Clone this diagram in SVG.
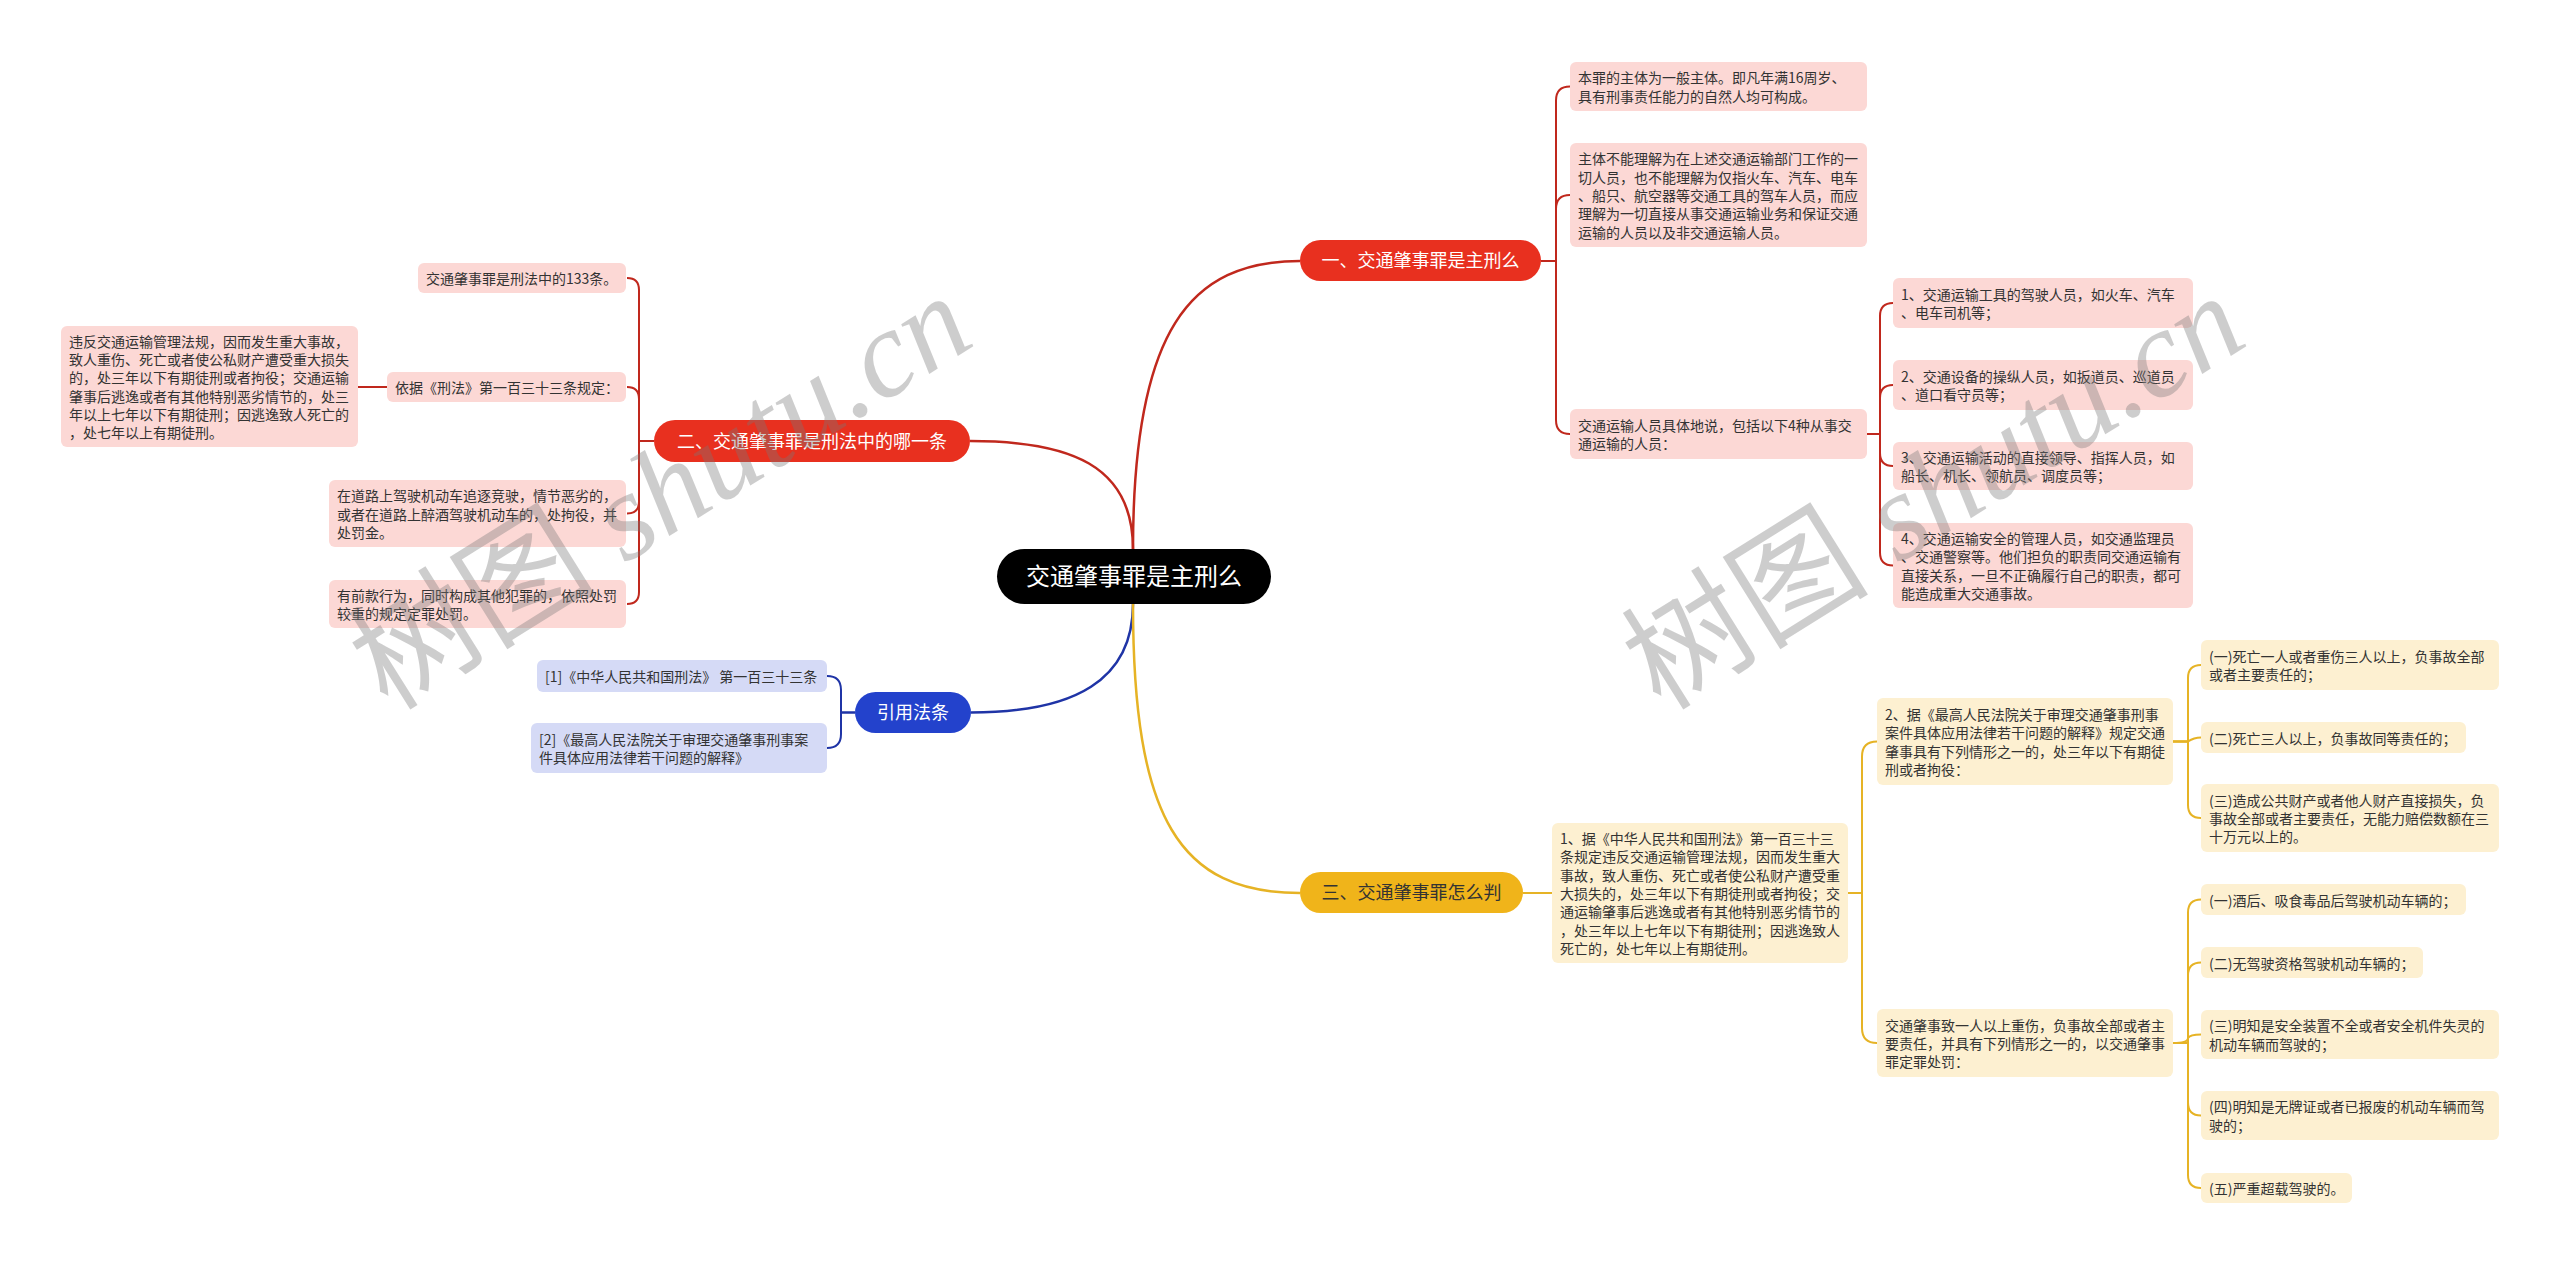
<svg xmlns="http://www.w3.org/2000/svg" width="2560" height="1265" viewBox="0 0 2560 1265">
<style>
text{font-family:"Noto Sans CJK SC","Noto Sans",sans-serif;}
.t{font-size:14px;fill:#333;}
.m{font-size:18px;text-anchor:middle;}
.w{fill:#fff;}
.rn{fill:#e8301f;}
.yn{fill:#f0b41a;}
.bn{fill:#2342cc;}
.rb{fill:#fcd8d5;}
.yb{fill:#fdf0d1;}
.bb{fill:#d5daf6;}
.cr{fill:none;stroke:#c0281d;stroke-width:2;}
.cy{fill:none;stroke:#e6b325;stroke-width:2;}
.cb{fill:none;stroke:#1f34a6;stroke-width:2;}
.main{stroke-width:2.5;}
.wm{font-family:"Liberation Serif","Noto Sans CJK SC",serif;font-size:124px;fill:#787878;opacity:0.36;}
</style>
<rect width="2560" height="1265" fill="#fff"/>

<g id="connectors">
  <path class="cr main" d="M1133 549 C1133 330 1190 261 1300 261"/>
  <path class="cr main" d="M1133 549 C1133 465 1070 441 970 441"/>
  <path class="cb main" d="M1133 604 C1133 680 1075 712.5 971 712.5"/>
  <path class="cy main" d="M1133 604 C1133 820 1180 893 1300 893"/>

  <path class="cr" d="M1541 261 H1556 V100.5 Q1556 86.5 1570 86.5"/>
  <path class="cr" d="M1541 261 H1556 V209 Q1556 195 1570 195"/>
  <path class="cr" d="M1541 261 H1556 V420 Q1556 434 1570 434"/>
  <path class="cr" d="M1867 434 H1880 V316 Q1880 303 1893 303"/>
  <path class="cr" d="M1867 434 H1880 V398 Q1880 385 1893 385"/>
  <path class="cr" d="M1867 434 H1880 V453 Q1880 466 1893 466"/>
  <path class="cr" d="M1867 434 H1880 V552.5 Q1880 565.5 1893 565.5"/>

  <path class="cr" d="M654 441 H639 V290 Q639 278 627 278"/>
  <path class="cr" d="M654 441 H639 V399 Q639 387 627 387"/>
  <path class="cr" d="M654 441 H639 V501.5 Q639 513.5 627 513.5"/>
  <path class="cr" d="M654 441 H639 V592 Q639 604 627 604"/>
  <path class="cr" d="M387 387 H358"/>

  <path class="cb" d="M855 712.5 H841 V690 Q841 676 827 676"/>
  <path class="cb" d="M855 712.5 H841 V734 Q841 748 827 748"/>

  <path class="cy" d="M1523 893 H1552"/>
  <path class="cy" d="M1848 893 H1862 V756.5 Q1862 741.5 1877 741.5"/>
  <path class="cy" d="M1848 893 H1862 V1028 Q1862 1043 1877 1043"/>
  <path class="cy" d="M2173 741.5 H2188 V678 Q2188 665 2201 665"/>
  <path class="cy" d="M2173 741.5 H2188 Q2194 737.5 2201 737.5"/>
  <path class="cy" d="M2173 741.5 H2188 V805 Q2188 818 2201 818"/>
  <path class="cy" d="M2173 1043 H2188 V912.5 Q2188 899.5 2201 899.5"/>
  <path class="cy" d="M2173 1043 H2188 V975.5 Q2188 962.5 2201 962.5"/>
  <path class="cy" d="M2173 1043 Q2188 1043 2188 1038 Q2190 1034.5 2201 1034.5"/>
  <path class="cy" d="M2173 1043 H2188 V1102.5 Q2188 1115.5 2201 1115.5"/>
  <path class="cy" d="M2173 1043 H2188 V1175 Q2188 1188 2201 1188"/>
</g>

<g id="root">
  <rect x="997" y="549" width="274" height="55" rx="27.5" fill="#000"/>
  <text x="1134" y="585" class="w" style="font-size:24px;text-anchor:middle">交通肇事罪是主刑么</text>
</g>

<g id="b1">
  <rect x="1300" y="240" width="241" height="41" rx="20.5" class="rn"/>
  <text x="1420.5" y="267" class="m w">一、交通肇事罪是主刑么</text>
</g>
<g id="b1a">
  <rect x="1570" y="62" width="297" height="49" rx="6" class="rb"/>
  <text class="t"><tspan x="1578" y="83.4">本罪的主体为一般主体。即凡年满16周岁、</tspan><tspan x="1578" y="101.7">具有刑事责任能力的自然人均可构成。</tspan></text>
</g>
<g id="b1b">
  <rect x="1570" y="143" width="297" height="104" rx="6" class="rb"/>
  <text class="t"><tspan x="1578" y="164.4">主体不能理解为在上述交通运输部门工作的一</tspan><tspan x="1578" y="182.7">切人员，也不能理解为仅指火车、汽车、电车</tspan><tspan x="1578" y="201">、船只、航空器等交通工具的驾车人员，而应</tspan><tspan x="1578" y="219.3">理解为一切直接从事交通运输业务和保证交通</tspan><tspan x="1578" y="237.6">运输的人员以及非交通运输人员。</tspan></text>
</g>
<g id="b1c">
  <rect x="1570" y="409" width="297" height="50" rx="6" class="rb"/>
  <text class="t"><tspan x="1578" y="430.85">交通运输人员具体地说，包括以下4种从事交</tspan><tspan x="1578" y="449.15">通运输的人员：</tspan></text>
</g>
<g id="b1c1">
  <rect x="1893" y="278" width="300" height="50" rx="6" class="rb"/>
  <text class="t"><tspan x="1901" y="299.85">1、交通运输工具的驾驶人员，如火车、汽车</tspan><tspan x="1901" y="318.15">、电车司机等；</tspan></text>
</g>
<g id="b1c2">
  <rect x="1893" y="360" width="300" height="50" rx="6" class="rb"/>
  <text class="t"><tspan x="1901" y="381.85">2、交通设备的操纵人员，如扳道员、巡道员</tspan><tspan x="1901" y="400.15">、道口看守员等；</tspan></text>
</g>
<g id="b1c3">
  <rect x="1893" y="442" width="300" height="48" rx="6" class="rb"/>
  <text class="t"><tspan x="1901" y="462.85">3、交通运输活动的直接领导、指挥人员，如</tspan><tspan x="1901" y="481.15">船长、机长、领航员、调度员等；</tspan></text>
</g>
<g id="b1c4">
  <rect x="1893" y="523" width="300" height="85" rx="6" class="rb"/>
  <text class="t"><tspan x="1901" y="544.05">4、交通运输安全的管理人员，如交通监理员</tspan><tspan x="1901" y="562.35">、交通警察等。他们担负的职责同交通运输有</tspan><tspan x="1901" y="580.65">直接关系，一旦不正确履行自己的职责，都可</tspan><tspan x="1901" y="598.95">能造成重大交通事故。</tspan></text>
</g>

<g id="b2">
  <rect x="654" y="420" width="316" height="42" rx="21" class="rn"/>
  <text x="812" y="447.5" class="m w">二、交通肇事罪是刑法中的哪一条</text>
</g>
<g id="b2a">
  <rect x="418" y="263" width="208" height="30" rx="6" class="rb"/>
  <text x="426" y="284" class="t">交通肇事罪是刑法中的133条。</text>
</g>
<g id="b2b">
  <rect x="387" y="372" width="239" height="30" rx="6" class="rb"/>
  <text x="395" y="393" class="t">依据《刑法》第一百三十三条规定：</text>
</g>
<g id="b2b1">
  <rect x="61" y="326" width="297" height="121" rx="6" class="rb"/>
  <text class="t"><tspan x="69" y="346.75">违反交通运输管理法规，因而发生重大事故，</tspan><tspan x="69" y="365.05">致人重伤、死亡或者使公私财产遭受重大损失</tspan><tspan x="69" y="383.35">的，处三年以下有期徒刑或者拘役；交通运输</tspan><tspan x="69" y="401.65">肇事后逃逸或者有其他特别恶劣情节的，处三</tspan><tspan x="69" y="419.95">年以上七年以下有期徒刑；因逃逸致人死亡的</tspan><tspan x="69" y="438.25">，处七年以上有期徒刑。</tspan></text>
</g>
<g id="b2c">
  <rect x="329" y="480" width="297" height="67" rx="6" class="rb"/>
  <text class="t"><tspan x="337" y="501.2">在道路上驾驶机动车追逐竞驶，情节恶劣的，</tspan><tspan x="337" y="519.5">或者在道路上醉酒驾驶机动车的，处拘役，并</tspan><tspan x="337" y="537.8">处罚金。</tspan></text>
</g>
<g id="b2d">
  <rect x="329" y="580" width="297" height="48" rx="6" class="rb"/>
  <text class="t"><tspan x="337" y="600.85">有前款行为，同时构成其他犯罪的，依照处罚</tspan><tspan x="337" y="619.15">较重的规定定罪处罚。</tspan></text>
</g>

<g id="cite">
  <rect x="855" y="692" width="116" height="41" rx="20.5" class="bn"/>
  <text x="913" y="719" class="m w">引用法条</text>
</g>
<g id="cite1">
  <rect x="537" y="660" width="290" height="32" rx="6" class="bb"/>
  <text x="545" y="682" class="t">[1]《中华人民共和国刑法》 第一百三十三条</text>
</g>
<g id="cite2">
  <rect x="531" y="723" width="296" height="50" rx="6" class="bb"/>
  <text class="t"><tspan x="539" y="744.85">[2]《最高人民法院关于审理交通肇事刑事案</tspan><tspan x="539" y="763.15">件具体应用法律若干问题的解释》</tspan></text>
</g>

<g id="b3">
  <rect x="1300" y="872" width="223" height="41" rx="20.5" class="yn"/>
  <text x="1411.5" y="899" class="m" fill="#333">三、交通肇事罪怎么判</text>
</g>
<g id="b3a">
  <rect x="1552" y="823" width="296" height="140" rx="6" class="yb"/>
  <text class="t"><tspan x="1560" y="844.1">1、据《中华人民共和国刑法》第一百三十三</tspan><tspan x="1560" y="862.4">条规定违反交通运输管理法规，因而发生重大</tspan><tspan x="1560" y="880.7">事故，致人重伤、死亡或者使公私财产遭受重</tspan><tspan x="1560" y="899">大损失的，处三年以下有期徒刑或者拘役；交</tspan><tspan x="1560" y="917.3">通运输肇事后逃逸或者有其他特别恶劣情节的</tspan><tspan x="1560" y="935.6">，处三年以上七年以下有期徒刑；因逃逸致人</tspan><tspan x="1560" y="953.9">死亡的，处七年以上有期徒刑。</tspan></text>
</g>
<g id="b3b">
  <rect x="1877" y="698" width="296" height="87" rx="6" class="yb"/>
  <text class="t"><tspan x="1885" y="720.05">2、据《最高人民法院关于审理交通肇事刑事</tspan><tspan x="1885" y="738.35">案件具体应用法律若干问题的解释》规定交通</tspan><tspan x="1885" y="756.65">肇事具有下列情形之一的，处三年以下有期徒</tspan><tspan x="1885" y="774.95">刑或者拘役：</tspan></text>
</g>
<g id="b3b1">
  <rect x="2201" y="640" width="298" height="50" rx="6" class="yb"/>
  <text class="t"><tspan x="2209" y="661.85">(一)死亡一人或者重伤三人以上，负事故全部</tspan><tspan x="2209" y="680.15">或者主要责任的；</tspan></text>
</g>
<g id="b3b2">
  <rect x="2201" y="722" width="265" height="31" rx="6" class="yb"/>
  <text x="2209" y="743.5" class="t">(二)死亡三人以上，负事故同等责任的；</text>
</g>
<g id="b3b3">
  <rect x="2201" y="784" width="298" height="68" rx="6" class="yb"/>
  <text class="t"><tspan x="2209" y="805.7">(三)造成公共财产或者他人财产直接损失，负</tspan><tspan x="2209" y="824">事故全部或者主要责任，无能力赔偿数额在三</tspan><tspan x="2209" y="842.3">十万元以上的。</tspan></text>
</g>
<g id="b3c">
  <rect x="1877" y="1009" width="296" height="68" rx="6" class="yb"/>
  <text class="t"><tspan x="1885" y="1030.7">交通肇事致一人以上重伤，负事故全部或者主</tspan><tspan x="1885" y="1049">要责任，并具有下列情形之一的，以交通肇事</tspan><tspan x="1885" y="1067.3">罪定罪处罚：</tspan></text>
</g>
<g id="b3c1">
  <rect x="2201" y="884" width="265" height="31" rx="6" class="yb"/>
  <text x="2209" y="905.5" class="t">(一)酒后、吸食毒品后驾驶机动车辆的；</text>
</g>
<g id="b3c2">
  <rect x="2201" y="947" width="222" height="31" rx="6" class="yb"/>
  <text x="2209" y="968.5" class="t">(二)无驾驶资格驾驶机动车辆的；</text>
</g>
<g id="b3c3">
  <rect x="2201" y="1010" width="298" height="49" rx="6" class="yb"/>
  <text class="t"><tspan x="2209" y="1031.35">(三)明知是安全装置不全或者安全机件失灵的</tspan><tspan x="2209" y="1049.65">机动车辆而驾驶的；</tspan></text>
</g>
<g id="b3c4">
  <rect x="2201" y="1091" width="298" height="49" rx="6" class="yb"/>
  <text class="t"><tspan x="2209" y="1112.35">(四)明知是无牌证或者已报废的机动车辆而驾</tspan><tspan x="2209" y="1130.65">驶的；</tspan></text>
</g>
<g id="b3c5">
  <rect x="2201" y="1173" width="151" height="30" rx="6" class="yb"/>
  <text x="2209" y="1194" class="t">(五)严重超载驾驶的。</text>
</g>

<g id="watermarks">
  <text class="wm" x="388" y="712" transform="rotate(-32 388 712)">树图 <tspan font-style="italic">shutu.cn</tspan></text>
  <text class="wm" x="1661" y="712" transform="rotate(-32 1661 712)">树图 <tspan font-style="italic">shutu.cn</tspan></text>
</g>
</svg>
